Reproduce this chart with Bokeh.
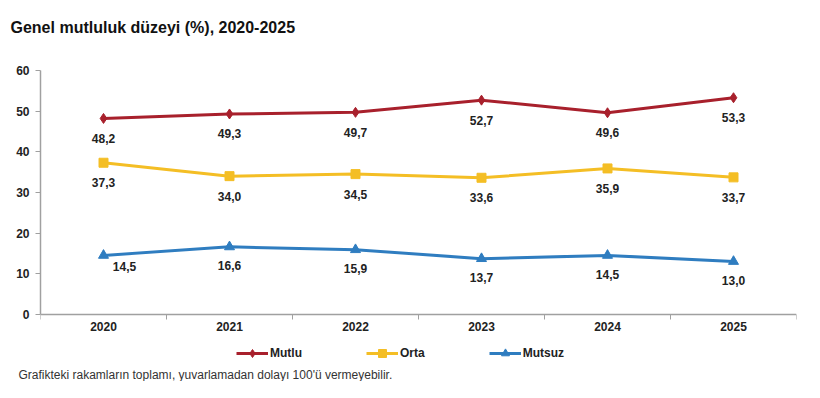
from bokeh.plotting import figure
from bokeh.models import (ColumnDataSource, FixedTicker, Range1d, Legend, LegendItem, Title, LabelSet)
from bokeh.core.properties import value
from bokeh.embed import file_html
from bokeh.resources import INLINE

years = ["2020", "2021", "2022", "2023", "2024", "2025"]
mutlu = [48.2, 49.3, 49.7, 52.7, 49.6, 53.3]
orta = [37.3, 34.0, 34.5, 33.6, 35.9, 33.7]
mutsuz = [14.5, 16.6, 15.9, 13.7, 14.5, 13.0]
y_ticks = [0, 10, 20, 30, 40, 50, 60]

FONT = "Liberation Sans"
xs = [i + 0.5 for i in range(len(years))]

def fmt(v):
    return f"{v:.1f}".replace(".", ",")

p = figure(width=812, height=381, output_backend="svg", toolbar_location=None,
           x_range=Range1d(0, len(years)), y_range=Range1d(-12.6, 60),
           min_border_left=40, min_border_right=16, min_border_top=70, min_border_bottom=10)
p.outline_line_color = None
p.grid.grid_line_color = None
p.background_fill_color = "white"

p.title.text = "Genel mutluluk düzeyi (%), 2020-2025\n \n "
p.title.text_font = FONT
p.title.text_font_size = "16px"
p.title.text_font_style = "bold"
p.title.text_color = "#111111"
p.title.offset = -30
p.title.standoff = 2

# axes
p.xaxis.fixed_location = 0
p.xaxis.ticker = FixedTicker(ticks=xs, minor_ticks=list(range(len(years) + 1)))
p.xaxis.major_label_overrides = {x: y for x, y in zip(xs, years)}
p.xaxis.major_tick_line_color = None
p.xaxis.minor_tick_out = 5
p.xaxis.minor_tick_in = 0
p.xaxis.minor_tick_line_color = "#a0a0a0"
p.xaxis.axis_line_color = "#a0a0a0"
p.yaxis.ticker = FixedTicker(ticks=y_ticks)
p.yaxis.bounds = (0, 60)
p.yaxis.minor_tick_line_color = None
p.yaxis.major_tick_out = 5
p.yaxis.major_tick_in = 0
p.yaxis.major_tick_line_color = "#a0a0a0"
p.yaxis.axis_line_color = "#a0a0a0"
for ax in (p.xaxis, p.yaxis):
    ax.major_label_text_font = FONT
    ax.major_label_text_font_size = "12px"
    ax.major_label_text_font_style = "bold"
    ax.major_label_text_color = "#222222"
    ax.axis_line_width = 1.5
p.xaxis.major_label_standoff = 2
p.yaxis.major_label_standoff = 6

series = [
    ("Mutlu", mutlu, "#A8202C", "diamond", 10),
    ("Orta", orta, "#F4BE25", "square", 9),
    ("Mutsuz", mutsuz, "#2F7DC0", "triangle", 10),
]
items = []
for name, vals, col, marker, size in series:
    src = ColumnDataSource(dict(x=xs, y=vals, lab=[fmt(v) for v in vals],
                                xo=[0] * len(vals), yo=[-20] * len(vals)))
    if name == "Mutsuz":
        src.data["xo"] = [21, 0, 0, 0, 0, 0]
        src.data["yo"] = [-11, -19, -19, -19, -19, -19]
    l = p.line("x", "y", source=src, line_color=col, line_width=3)
    s = p.scatter("x", "y", source=src, marker=marker, size=size, fill_color=col, line_color=col)
    p.add_layout(LabelSet(x="x", y="y", text="lab", source=src, x_offset="xo", y_offset="yo",
                          text_align="center", text_baseline="middle", text_font=value(FONT),
                          text_font_size=value("12px"), text_font_style=value("bold"),
                          text_color=value("#222222")))
    items.append(LegendItem(label=name, renderers=[l, s]))

legend = Legend(items=items, orientation="horizontal", location=(196, 2),
                glyph_width=32, label_standoff=2, spacing=64, padding=0, margin=0,
                label_text_font=FONT, label_text_font_size="12px", label_text_font_style="bold",
                label_text_color="#222222", border_line_color=None, background_fill_alpha=0)
p.add_layout(legend, "center")

foot = Title(text="Grafikteki rakamların toplamı, yuvarlamadan dolayı 100'ü vermeyebilir.",
             align="left", offset=-22, text_font=FONT, text_font_size="12px",
             text_font_style="normal", text_color="#333333", standoff=0)
p.add_layout(foot, "below")

open("out.html", "w").write(file_html(p, INLINE))
